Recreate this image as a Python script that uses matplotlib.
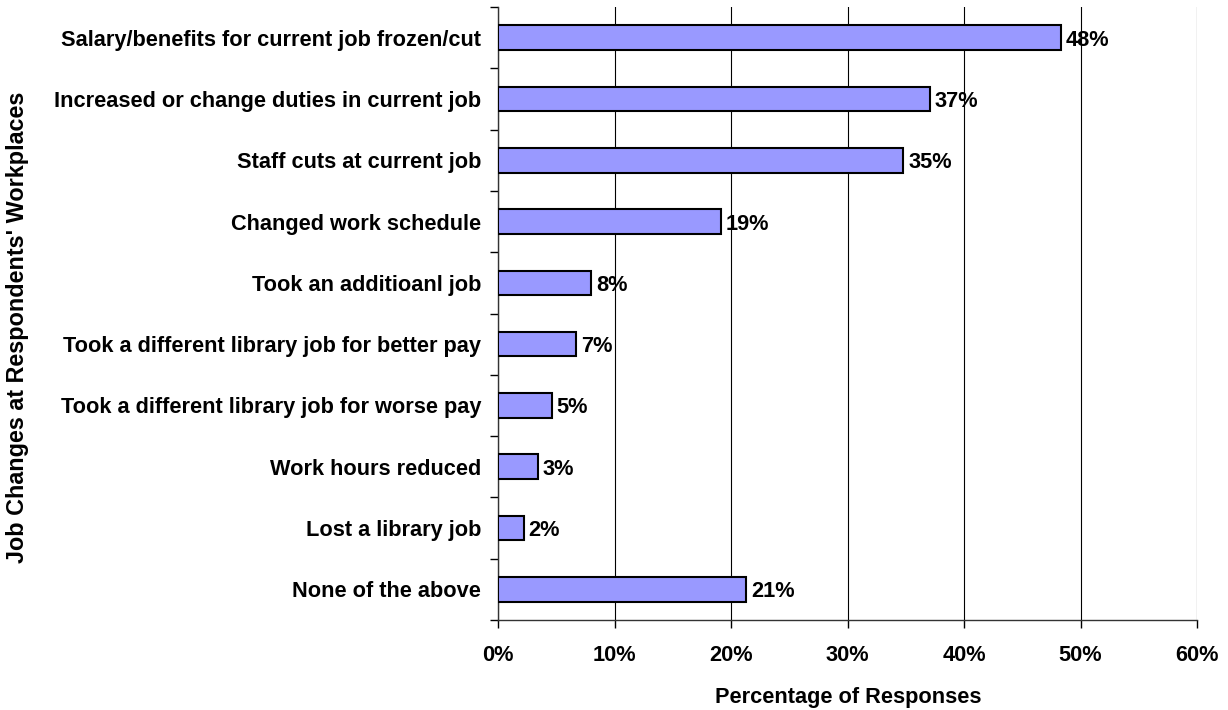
import matplotlib.pyplot as plt
import numpy as np

# Survey results: job changes reported at respondents' workplaces
categories = [
    'Salary/benefits for current job frozen/cut',
    'Increased or change duties in current job',
    'Staff cuts at current job',
    'Changed work schedule',
    'Took an additioanl job',
    'Took a different library job for better pay',
    'Took a different library job for worse pay',
    'Work hours reduced',
    'Lost a library job',
    'None of the above',
]
percentages = [48.3, 37.1, 34.8, 19.1, 8.0, 6.7, 4.6, 3.4, 2.2, 21.3]
x_ticks = [0, 10, 20, 30, 40, 50, 60]

plt.rcParams['font.family'] = ['Liberation Sans', 'DejaVu Sans']
plt.rcParams['font.weight'] = 'bold'
fs = 15.7

fig = plt.figure(figsize=(12.28, 7.10), dpi=100)
ax = fig.add_axes([498 / 1228, 90 / 710, 699 / 1228, 613 / 710])

y_pos = np.arange(len(categories))
ax.barh(y_pos, percentages, height=0.4, color='#9999FF',
        edgecolor='black', linewidth=1.5, zorder=3)

# value labels just past the end of each bar
for y, value in zip(y_pos, percentages):
    ax.text(value + 0.4, y, f'{round(value)}%', va='center_baseline', ha='left',
            fontsize=fs, fontweight='bold', zorder=4)

ax.set_ylim(len(categories) - 0.5, -0.5)
ax.set_xlim(0, 60)

# category labels, with tick marks between categories
ax.set_yticks(y_pos)
ax.set_yticklabels(categories, fontsize=fs, fontweight='bold')
ax.set_yticks(np.arange(len(categories) + 1) - 0.5, minor=True)
ax.tick_params(axis='y', which='major', length=0, pad=12)
ax.tick_params(axis='y', which='minor', length=6, width=1, direction='out')

ax.set_xticks(x_ticks)
ax.set_xticklabels([f'{t}%' for t in x_ticks], fontsize=fs, fontweight='bold')
ax.tick_params(axis='x', length=6, width=1, direction='out', pad=12)

ax.grid(axis='x', color='black', linewidth=0.8, zorder=0)
ax.spines['top'].set_visible(False)
ax.spines['right'].set_visible(False)
ax.spines['left'].set_linewidth(1)
ax.spines['bottom'].set_linewidth(1)
ax.spines['left'].set_color('#333333')
ax.spines['bottom'].set_color('#333333')

fig.text(848 / 1228, 1 - 697 / 710, 'Percentage of Responses', ha='center',
         va='center', fontsize=fs, fontweight='bold')
fig.text(18 / 1228, 1 - 327 / 710, "Job Changes at Respondents' Workplaces",
         ha='center', va='center', rotation=90, fontsize=16.8, fontweight='bold')

fig.savefig('out.png', dpi=100, facecolor='white')
